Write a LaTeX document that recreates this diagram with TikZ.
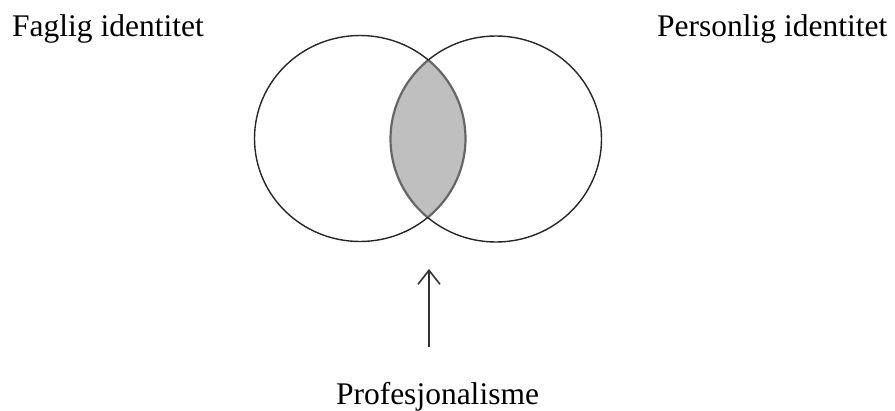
\documentclass[tikz,border=0pt]{standalone}
\usepackage{fontspec}
\setmainfont{Liberation Serif}
\usetikzlibrary{arrows.meta}
\begin{document}
\begin{tikzpicture}[x=1pt,y=-1pt,
  label/.style={inner sep=0pt,font=\fontsize{31.5}{36}\selectfont,text=black},
  ring/.style={draw=black!85,line width=1.4pt},
  lensline/.style={draw=black!60,line width=2.2pt},
  pointer/.style={draw=black!80,line width=1.6pt,-{Straight Barb[length=14pt,width=22pt,line width=1.6pt]}}]
\useasboundingbox (0,0) rectangle (895,410);
% centres of the two circles
\coordinate (lc) at (360,138.5);
\coordinate (rc) at (496,139);
\def\rx{105.5}\def\ry{103}
% shared region
\begin{scope}
  \clip (lc) ellipse [x radius=\rx, y radius=\ry];
  \fill[black!25] (rc) ellipse [x radius=\rx, y radius=\ry];
  \draw[lensline] (rc) ellipse [x radius=\rx, y radius=\ry];
\end{scope}
\begin{scope}
  \clip (rc) ellipse [x radius=\rx, y radius=\ry];
  \draw[lensline] (lc) ellipse [x radius=\rx, y radius=\ry];
\end{scope}
% outer parts of the circles
\begin{scope}[even odd rule]
  \clip (0,0) rectangle (895,410) (rc) ellipse [x radius=\rx, y radius=\ry];
  \draw[ring] (lc) ellipse [x radius=\rx, y radius=\ry];
\end{scope}
\begin{scope}[even odd rule]
  \clip (0,0) rectangle (895,410) (lc) ellipse [x radius=\rx, y radius=\ry];
  \draw[ring] (rc) ellipse [x radius=\rx, y radius=\ry];
\end{scope}
% labels
\node[label,anchor=base west] (fag) at (12,36.5) {Faglig identitet};
\node[label,anchor=base west] (pers) at (657,36.5) {Personlig identitet};
\node[label,anchor=base] (prof) at (437.5,404) {Profesjonalisme};
% arrow pointing at the shared region
\coordinate (tail) at (429,347);
\coordinate (tip) at (429,269);
\draw[pointer] (tail) -- (tip);
\end{tikzpicture}
\end{document}
